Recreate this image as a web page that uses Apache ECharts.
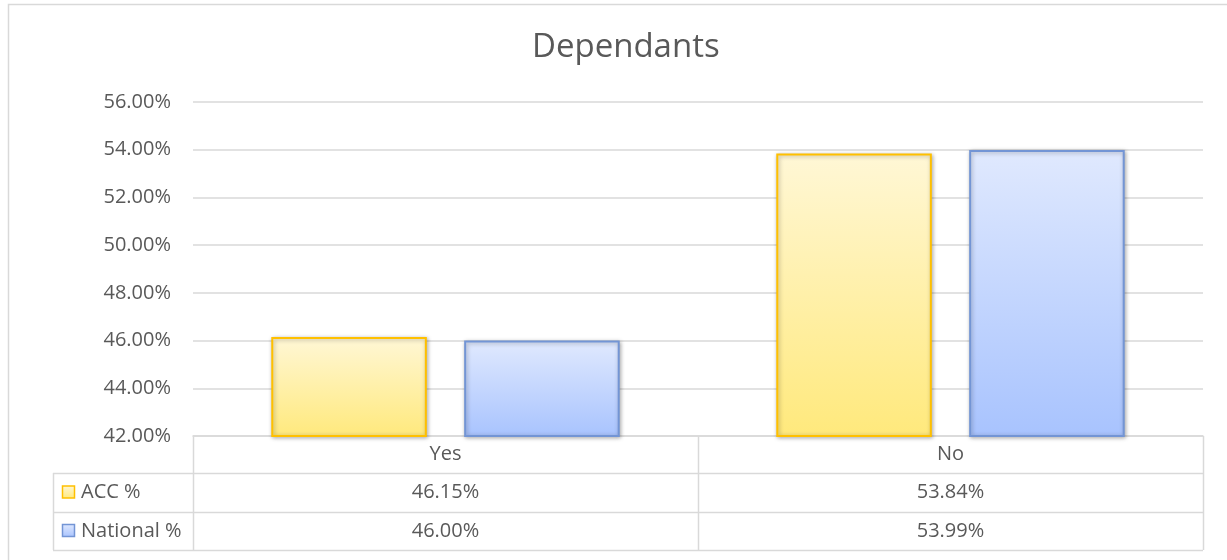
<!DOCTYPE html>
<html>
<head>
<meta charset="utf-8" />
<script src="https://cdn.jsdelivr.net/npm/echarts@6/dist/echarts.min.js"></script>
<style>
  html, body { margin: 0; padding: 0; background: #fff; }
  #main { width: 1227px; height: 560px; }
</style>
</head>
<body>
<div id="main"></div>
<script>
// data
var categories = ['Yes', 'No'];
var seriesNames = ['ACC %', 'National %'];
var accValues = [46.15, 53.84];
var nationalValues = [46.00, 53.99];
var yMin = 42, yMax = 56, yStep = 2;

// layout (plot area + data table under it)
var GRID_L = 193, GRID_R = 1203, AXIS_Y = 436;
var TABLE_L = 53;
var rowBottoms = [473, 512, 550]; // header row, ACC row, National row
var FONT = '"Open Sans", "Liberation Sans", sans-serif';
var TXT = '#595959', LINE = '#d9d9d9';

function grad(top, bottom) {
    return new echarts.graphic.LinearGradient(0, 0, 0, 1, [
        { offset: 0, color: top },
        { offset: 1, color: bottom }
    ]);
}
var fills = [grad('#fff7d6', '#ffe97c'), grad('#e0e9fe', '#a8c3fe')];
var borders = ['#ffc000', '#7395d5'];
var seriesData = [accValues, nationalValues];

function fmt(v) { return v.toFixed(2) + '%'; }

var myChart = echarts.init(document.getElementById('main'));

// data table drawn from the same arrays
function buildTable() {
    var g = [];
    var colW = (GRID_R - GRID_L) / categories.length;
    function hline(y, x1, x2) {
        g.push({ type: 'line', silent: true, z: 10, shape: { x1: x1, y1: y + 0.5, x2: x2, y2: y + 0.5 }, style: { stroke: LINE, lineWidth: 1.5 } });
    }
    function vline(x, y1, y2) {
        g.push({ type: 'line', silent: true, z: 10, shape: { x1: x + 0.5, y1: y1, x2: x + 0.5, y2: y2 }, style: { stroke: LINE, lineWidth: 1.5 } });
    }
    function text(s, x, y, align) {
        g.push({ type: 'text', silent: true, z: 11, x: x, y: y, style: { text: s, font: '20px ' + FONT, fill: TXT, align: align, verticalAlign: 'middle' } });
    }
    // outer chart border
    g.push({ type: 'rect', silent: true, z: 0, shape: { x: 8.5, y: 4.5, width: 1240, height: 620 }, style: { fill: 'none', stroke: LINE, lineWidth: 1.5 } });

    // table rules
    for (var r = 0; r < rowBottoms.length; r++) {
        hline(rowBottoms[r], TABLE_L, GRID_R);
    }
    vline(TABLE_L, rowBottoms[0], rowBottoms[2]);
    for (var c = 0; c <= categories.length; c++) {
        vline(GRID_L + c * colW, AXIS_Y, rowBottoms[2]);
    }
    // header row + value cells
    var rowTops = [AXIS_Y, rowBottoms[0], rowBottoms[1]];
    for (var i = 0; i < categories.length; i++) {
        var cx = GRID_L + (i + 0.5) * colW;
        text(categories[i], cx, (rowTops[0] + rowBottoms[0]) / 2, 'center');
        for (var s = 0; s < seriesData.length; s++) {
            text(fmt(seriesData[s][i]), cx, (rowTops[s + 1] + rowBottoms[s + 1]) / 2, 'center');
        }
    }
    // legend keys + series names
    for (var k = 0; k < seriesNames.length; k++) {
        var my = (rowTops[k + 1] + rowBottoms[k + 1]) / 2;
        g.push({ type: 'rect', silent: true, z: 11, shape: { x: 62.5, y: my - 6.5, width: 12, height: 12 }, style: { fill: fills[k], stroke: borders[k], lineWidth: 1.5 } });
        text(seriesNames[k], 81, my, 'left');
    }
    return g;
}

var option = {
    animation: false,
    title: {
        text: 'Dependants',
        left: 527,
        top: 26,
        textStyle: { fontFamily: FONT, fontSize: 33, fontWeight: 'normal', color: TXT }
    },
    grid: { left: GRID_L, right: 1227 - GRID_R, top: 102, bottom: 560 - AXIS_Y, containLabel: false },
    xAxis: {
        type: 'category',
        data: categories,
        axisLine: { show: true, lineStyle: { color: LINE, width: 1.5 } },
        axisTick: { show: false },
        axisLabel: { show: false },
        splitLine: { show: false }
    },
    yAxis: {
        type: 'value',
        min: yMin,
        max: yMax,
        interval: yStep,
        axisLine: { show: false },
        axisTick: { show: false },
        axisLabel: { formatter: fmt, fontFamily: FONT, fontSize: 20, color: TXT, margin: 22 },
        splitLine: { lineStyle: { color: LINE, width: 1.5 } }
    },
    series: seriesNames.map(function (name, i) {
        return {
            name: name,
            type: 'bar',
            data: seriesData[i],
            barCategoryGap: '31%',
            barGap: '24%',
            itemStyle: {
                color: fills[i],
                borderColor: borders[i],
                borderWidth: 2,
                shadowColor: 'rgba(0,0,0,0.3)',
                shadowBlur: 4,
                shadowOffsetX: 1,
                shadowOffsetY: 1
            }
        };
    }),
    graphic: buildTable()
};
myChart.setOption(option);
</script>
</body>
</html>
